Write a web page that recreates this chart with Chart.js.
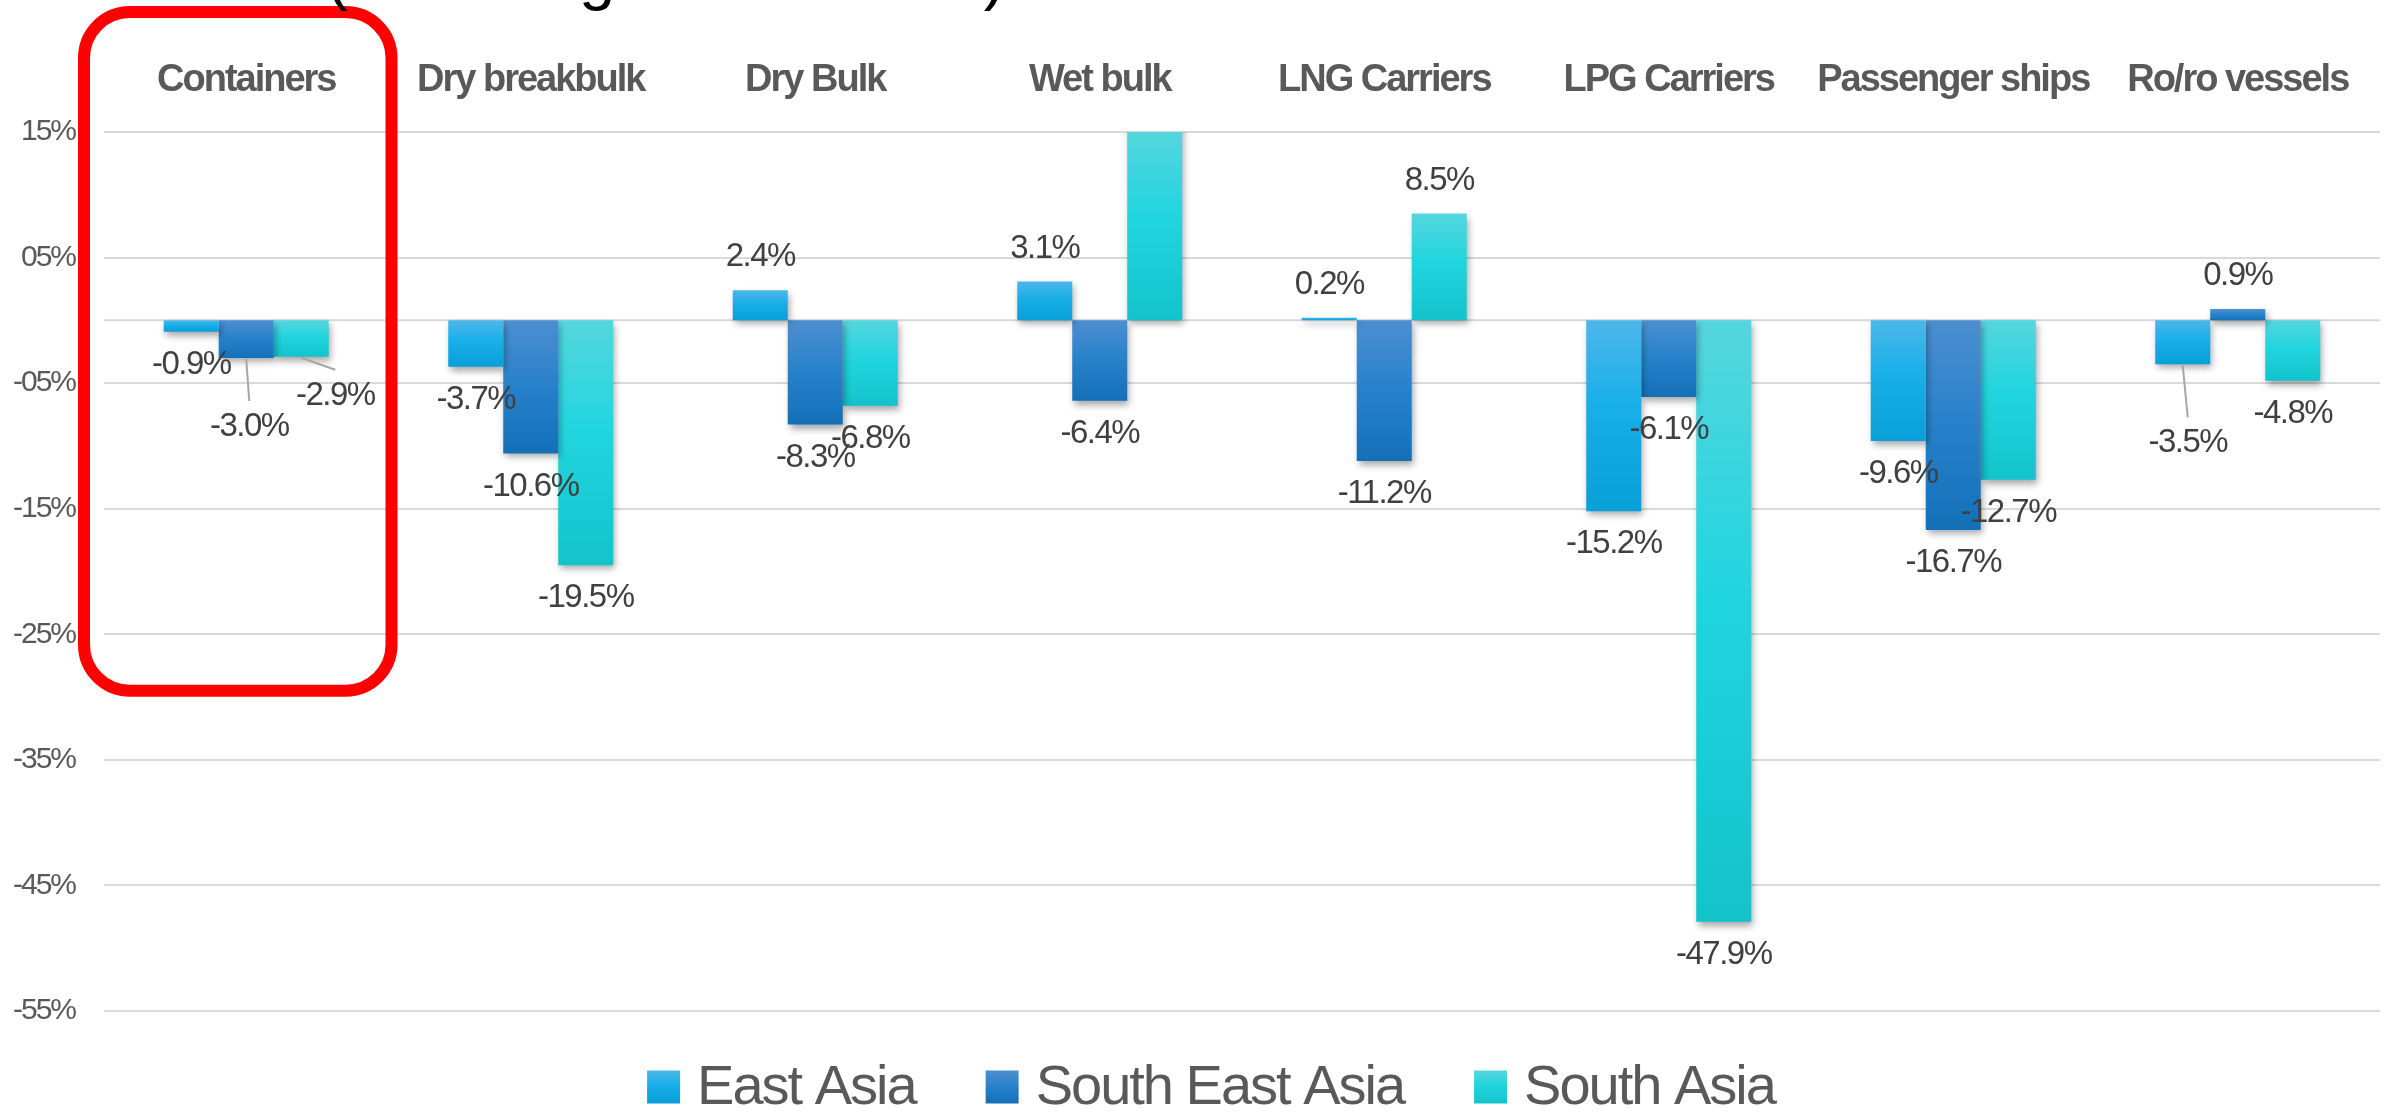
<!DOCTYPE html>
<html>
<head>
<meta charset="utf-8">
<script src="https://cdn.jsdelivr.net/npm/chart.js@4.4.1/dist/chart.umd.min.js"></script>
<style>
  html, body { margin: 0; padding: 0; background: #fff; }
  #wrap { width: 2392px; height: 1112px; }
</style>
</head>
<body>
<div id="wrap"><canvas id="shipChart"></canvas></div>
<script>
// ---------------- DATA ----------------
const categories = ['Containers', 'Dry breakbulk', 'Dry Bulk', 'Wet bulk', 'LNG Carriers', 'LPG Carriers', 'Passenger ships', 'Ro/ro vessels'];
const seriesNames = ['East Asia', 'South East Asia', 'South Asia'];
const eastAsia = [-0.9, -3.7, 2.4, 3.1, 0.2, -15.2, -9.6, -3.5];
const southEastAsia = [-3.0, -10.6, -8.3, -6.4, -11.2, -6.1, -16.7, 0.9];
// wet bulk for South Asia runs off the top of the axis
const southAsia = [-2.9, -19.5, -6.8, 16.5, 8.5, -47.9, -12.7, -4.8];
const yTicks = [-55, -45, -35, -25, -15, -5, 5, 15];
const titleText = '(% Change since 2019)';

// ---------------- STYLE ----------------
const sans = "'Liberation Sans', Arial, sans-serif";
const gradients = [
    [[0, '#4cb7e9'], [0.45, '#18afe9'], [1, '#08a0d8']],
    [[0, '#4c8fd0'], [0.5, '#2781ca'], [1, '#1370b7']],
    [[0, '#55d6de'], [0.45, '#21d5df'], [1, '#12c3cb']]
];
// labels that sit away from their bar, joined by a leader line: [dx, dy]
const labelNudges = { '1-0': [3, 36], '2-0': [34, 6], '0-7': [5, 46] };

function makeGradient(ctx, stops, top, bottom) {
    const g = ctx.createLinearGradient(0, top, 0, bottom);
    stops.forEach(([o, c]) => g.addColorStop(o, c));
    return g;
}

// each bar gets its own light-to-dark vertical fill
function barFill(stops) {
    return function (context) {
        const chart = context.chart;
        const area = chart.chartArea;
        if (!area || context.type !== 'data') return stops[1][1];
        const y = chart.scales.y;
        const a = y.getPixelForValue(0);
        const b = y.getPixelForValue(context.raw);
        const top = Math.max(Math.min(a, b), area.top);
        let bottom = Math.min(Math.max(a, b), area.bottom);
        if (bottom - top < 1) bottom = top + 1;
        return makeGradient(chart.ctx, stops, top, bottom);
    };
}

function pctTick(v) {
    return (v < 0 ? '-' : '') + String(Math.abs(v)).padStart(2, '0') + '%';
}

// zero line, bar shadows, value labels, highlight box, legend
const decorations = {
    id: 'decorations',
    beforeDraw(chart) {
        // tighter text for the axis labels
        chart.ctx.letterSpacing = '-2px';
    },
    beforeDatasetsDraw(chart) {
        const { ctx, chartArea, scales } = chart;
        const y0 = scales.y.getPixelForValue(0);
        ctx.save();
        ctx.strokeStyle = '#d9d9d9';
        ctx.lineWidth = 2;
        ctx.beginPath();
        ctx.moveTo(chartArea.left, y0);
        ctx.lineTo(chartArea.right, y0);
        ctx.stroke();
        ctx.restore();

        ctx.save();
        ctx.shadowColor = 'rgba(0, 0, 0, 0.35)';
        ctx.shadowBlur = 7;
        ctx.shadowOffsetX = 2;
        ctx.shadowOffsetY = 4;
    },
    afterDatasetsDraw(chart) {
        const { ctx, chartArea, scales } = chart;
        ctx.restore();

        // value labels
        const yMax = scales.y.max;
        ctx.save();
        ctx.font = '33px ' + sans;
        ctx.letterSpacing = '-1.5px';
        ctx.fillStyle = '#404040';
        ctx.textAlign = 'center';
        ctx.textBaseline = 'middle';
        chart.data.datasets.forEach((ds, di) => {
            const meta = chart.getDatasetMeta(di);
            meta.data.forEach((bar, i) => {
                const v = ds.data[i];
                if (v > yMax) return;
                let x = bar.x;
                let y = v >= 0 ? bar.y - 33 : bar.y + 33;
                const nudge = labelNudges[di + '-' + i];
                if (nudge) {
                    const lx = x + nudge[0];
                    const ly = y + nudge[1];
                    ctx.save();
                    ctx.strokeStyle = '#a6a6a6';
                    ctx.lineWidth = 2;
                    ctx.beginPath();
                    ctx.moveTo(x, bar.y + 1);
                    ctx.lineTo(lx, ly - 26);
                    ctx.stroke();
                    ctx.restore();
                    x = lx;
                    y = ly;
                }
                ctx.fillText(v.toFixed(1) + '%', x, y);
            });
        });
        ctx.restore();

        // red box round the first category
        const xs = scales.x;
        const catW = xs.width / categories.length;
        const left = chartArea.left - 20;
        const right = chartArea.left + catW + 3;
        const top = 12;
        const bottom = scales.y.getPixelForValue(-29.5);
        ctx.save();
        ctx.strokeStyle = '#ff0000';
        ctx.lineWidth = 12;
        ctx.beginPath();
        ctx.roundRect(left, top, right - left, bottom - top, 46);
        ctx.stroke();
        ctx.restore();

        // title line, mostly above the top edge
        ctx.save();
        ctx.font = '65px ' + sans;
        ctx.letterSpacing = '0px';
        ctx.fillStyle = '#000000';
        ctx.textAlign = 'left';
        ctx.textBaseline = 'alphabetic';
        ctx.fillText(titleText, 326, -2);
        ctx.restore();

        // legend
        ctx.save();
        ctx.font = '56px ' + sans;
        ctx.letterSpacing = '-2px';
        ctx.textBaseline = 'middle';
        ctx.textAlign = 'left';
        const box = 33, gap = 17, spacing = 70;
        const widths = chart.data.datasets.map(ds => box + gap + ctx.measureText(ds.label).width);
        const total = widths.reduce((s, w) => s + w, 0) + spacing * (widths.length - 1);
        let lx = chart.width / 2 + 15 - total / 2;
        const cy = chart.height - 25;
        chart.data.datasets.forEach((ds, di) => {
            ctx.fillStyle = makeGradient(ctx, gradients[di], cy - box / 2, cy + box / 2);
            ctx.fillRect(lx, cy - box / 2, box, box);
            ctx.fillStyle = '#595959';
            ctx.fillText(ds.label, lx + box + gap, cy + 2);
            lx += widths[di] + spacing;
        });
        ctx.restore();
    }
};

// ---------------- BAR CHART ----------------
const chartCtx = document.getElementById('shipChart');

new Chart(chartCtx, {
    type: 'bar',
    data: {
        labels: categories,
        datasets: [eastAsia, southEastAsia, southAsia].map((values, i) => ({
            label: seriesNames[i],
            data: values,
            backgroundColor: barFill(gradients[i]),
            borderWidth: 0,
            categoryPercentage: 0.58,
            barPercentage: 1.0
        }))
    },
    options: {
        responsive: true,
        maintainAspectRatio: false,
        animation: false,
        layout: {
            padding: { left: 0, right: 12, top: 0, bottom: 101 }
        },
        plugins: {
            legend: { display: false },
            title: { display: false },
            tooltip: { enabled: false }
        },
        scales: {
            x: {
                position: 'top',
                grid: { display: false, drawTicks: false },
                border: { display: false },
                ticks: {
                    font: { family: sans, size: 38, weight: 'bold' },
                    color: '#595959',
                    padding: 29,
                    maxRotation: 0,
                    autoSkip: false
                },
                afterFit(scale) { scale.height = 132; }
            },
            y: {
                min: yTicks[0],
                max: yTicks[yTicks.length - 1],
                grid: { color: '#d9d9d9', lineWidth: 2, drawTicks: false },
                border: { display: false },
                ticks: {
                    stepSize: 10,
                    font: { family: sans, size: 30 },
                    color: '#595959',
                    padding: 29,
                    callback: pctTick
                },
                afterFit(scale) { scale.width = 104; }
            }
        }
    },
    plugins: [decorations]
});
</script>
</body>
</html>
